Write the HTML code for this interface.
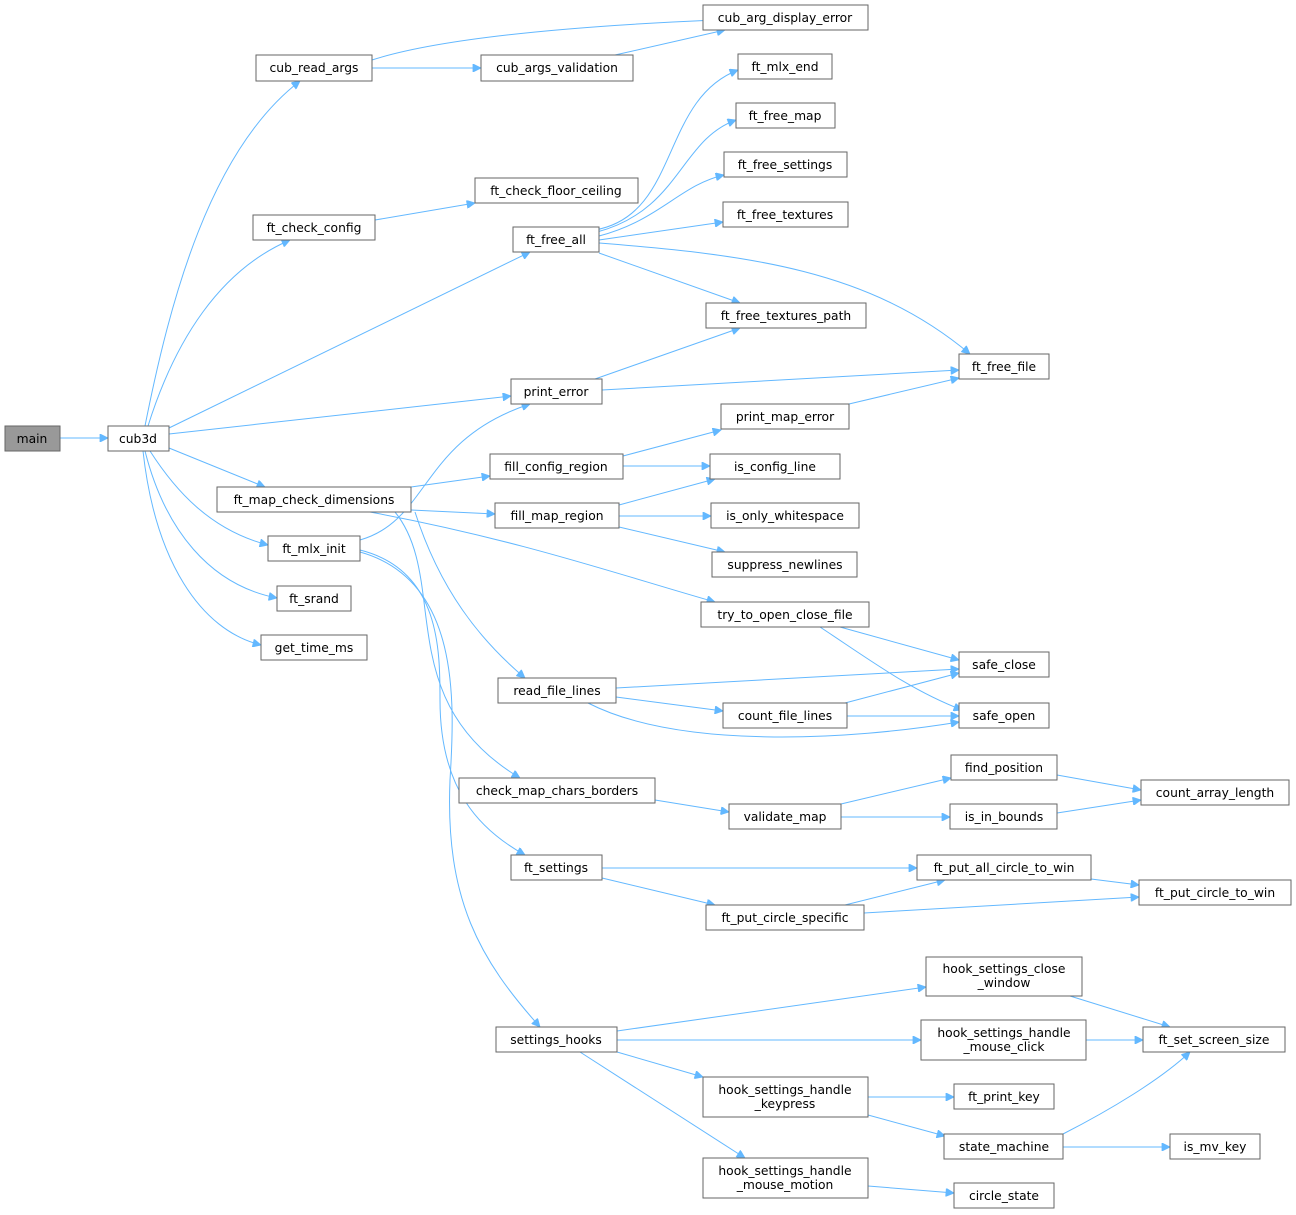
<!DOCTYPE html>
<html><head><meta charset="utf-8"><style>
html,body{margin:0;padding:0;background:#fff;}
svg{display:block;}
text{font-family:"DejaVu Sans","Liberation Sans",sans-serif;font-size:12.3px;fill:#000;text-anchor:middle;}
rect{fill:#fff;stroke:#666;stroke-width:1;}
path{fill:none;stroke:#63b8ff;stroke-width:1;marker-end:url(#a);}
</style></head><body>
<svg width="1296" height="1215" viewBox="0 0 1296 1215" xmlns="http://www.w3.org/2000/svg">
<defs><marker id="a" viewBox="0 0 10 10" refX="10" refY="5" markerWidth="10" markerHeight="8" markerUnits="userSpaceOnUse" orient="auto"><path d="M0,0 L10,5 L0,10 z" style="fill:#63b8ff;stroke:#63b8ff;marker-end:none"/></marker></defs>
<g>
<path d="M60,438 L108,438"/>
<path d="M145,426 C170,300 210,150 300,81"/>
<path d="M148,426 C175,340 220,270 290,240"/>
<path d="M169,428 L530,252"/>
<path d="M169,434 L511,396"/>
<path d="M169,448 L265,487"/>
<path d="M150,451 C175,490 210,530 268,545"/>
<path d="M145,451 C165,530 210,585 277,598"/>
<path d="M143,451 C155,560 200,630 261,645"/>
<path d="M372,60 C450,35 600,25 715,20"/>
<path d="M372,68 L481,68"/>
<path d="M615,55 L725,30"/>
<path d="M375,220 L475,203"/>
<path d="M595,230 C680,215 660,100 738,70"/>
<path d="M597,232 C680,210 680,140 736,120"/>
<path d="M599,236 C660,220 680,185 724,175"/>
<path d="M599,240 L723,222"/>
<path d="M599,253 L740,303"/>
<path d="M599,243 C750,255 870,270 970,354"/>
<path d="M595,379 L740,328"/>
<path d="M602,390 L959,370"/>
<path d="M849,404 L959,378"/>
<path d="M623,456 L721,430"/>
<path d="M623,466 L710,466"/>
<path d="M411,487 L490,476"/>
<path d="M411,510 L495,514"/>
<path d="M370,512 C520,540 620,575 715,602"/>
<path d="M415,512 C440,590 480,640 525,678"/>
<path d="M395,512 C450,580 390,700 520,778"/>
<path d="M619,505 L715,479"/>
<path d="M619,516 L711,516"/>
<path d="M619,527 L725,552"/>
<path d="M360,540 C430,520 420,440 530,404"/>
<path d="M360,550 C440,570 440,650 440,700 C440,790 480,830 525,855"/>
<path d="M360,552 C460,580 455,700 450,780 C445,900 480,960 540,1027"/>
<path d="M840,627 L959,660"/>
<path d="M820,627 C870,660 910,690 962,710"/>
<path d="M616,688 L959,669"/>
<path d="M616,697 L723,711"/>
<path d="M588,703 C680,750 850,740 959,722"/>
<path d="M845,703 L959,673"/>
<path d="M847,716 L959,716"/>
<path d="M655,800 L729,812"/>
<path d="M841,804 L951,778"/>
<path d="M841,817 L950,817"/>
<path d="M1057,775 L1141,790"/>
<path d="M1057,813 L1141,800"/>
<path d="M602,868 L917,868"/>
<path d="M602,878 L715,905"/>
<path d="M845,905 L945,880"/>
<path d="M864,913 L1139,897"/>
<path d="M1091,879 L1139,885"/>
<path d="M617,1031 L926,987"/>
<path d="M617,1040 L921,1040"/>
<path d="M617,1052 L703,1077"/>
<path d="M580,1052 L745,1158"/>
<path d="M1070,996 L1170,1027"/>
<path d="M1086,1040 L1143,1040"/>
<path d="M868,1097 L954,1097"/>
<path d="M868,1115 L945,1136"/>
<path d="M1063,1134 C1110,1110 1160,1080 1190,1052"/>
<path d="M1063,1147 L1170,1147"/>
<path d="M868,1186 L954,1193"/>
</g>
<g>
<rect x="5" y="426" width="55" height="25" style="fill:#999"/><text x="32" y="443">main</text>
<rect x="108" y="426" width="61" height="25"/><text x="138" y="443">cub3d</text>
<rect x="256" y="55" width="116" height="26"/><text x="314" y="72">cub_read_args</text>
<rect x="703" y="5" width="165" height="25"/><text x="785" y="22">cub_arg_display_error</text>
<rect x="481" y="55" width="152" height="26"/><text x="557" y="72">cub_args_validation</text>
<rect x="738" y="54" width="94" height="25"/><text x="785" y="71">ft_mlx_end</text>
<rect x="736" y="103" width="99" height="25"/><text x="785" y="120">ft_free_map</text>
<rect x="475" y="178" width="163" height="25"/><text x="556" y="195">ft_check_floor_ceiling</text>
<rect x="724" y="152" width="123" height="25"/><text x="785" y="169">ft_free_settings</text>
<rect x="253" y="215" width="122" height="25"/><text x="314" y="232">ft_check_config</text>
<rect x="513" y="227" width="86" height="25"/><text x="556" y="244">ft_free_all</text>
<rect x="723" y="202" width="125" height="25"/><text x="785" y="219">ft_free_textures</text>
<rect x="706" y="303" width="160" height="25"/><text x="786" y="320">ft_free_textures_path</text>
<rect x="959" y="354" width="90" height="25"/><text x="1004" y="371">ft_free_file</text>
<rect x="511" y="379" width="91" height="25"/><text x="556" y="396">print_error</text>
<rect x="721" y="404" width="128" height="25"/><text x="785" y="421">print_map_error</text>
<rect x="490" y="454" width="133" height="25"/><text x="556" y="471">fill_config_region</text>
<rect x="710" y="454" width="130" height="25"/><text x="775" y="471">is_config_line</text>
<rect x="217" y="487" width="194" height="25"/><text x="314" y="504">ft_map_check_dimensions</text>
<rect x="495" y="503" width="124" height="25"/><text x="557" y="520">fill_map_region</text>
<rect x="711" y="503" width="148" height="25"/><text x="785" y="520">is_only_whitespace</text>
<rect x="268" y="536" width="92" height="25"/><text x="314" y="553">ft_mlx_init</text>
<rect x="712" y="552" width="145" height="25"/><text x="785" y="569">suppress_newlines</text>
<rect x="277" y="586" width="74" height="25"/><text x="314" y="603">ft_srand</text>
<rect x="701" y="602" width="168" height="25"/><text x="785" y="619">try_to_open_close_file</text>
<rect x="261" y="635" width="106" height="25"/><text x="314" y="652">get_time_ms</text>
<rect x="959" y="652" width="90" height="25"/><text x="1004" y="669">safe_close</text>
<rect x="498" y="678" width="118" height="25"/><text x="557" y="695">read_file_lines</text>
<rect x="723" y="703" width="124" height="25"/><text x="785" y="720">count_file_lines</text>
<rect x="959" y="703" width="90" height="25"/><text x="1004" y="720">safe_open</text>
<rect x="951" y="755" width="106" height="25"/><text x="1004" y="772">find_position</text>
<rect x="459" y="778" width="196" height="25"/><text x="557" y="795">check_map_chars_borders</text>
<rect x="1141" y="780" width="148" height="25"/><text x="1215" y="797">count_array_length</text>
<rect x="729" y="804" width="112" height="25"/><text x="785" y="821">validate_map</text>
<rect x="950" y="804" width="107" height="25"/><text x="1004" y="821">is_in_bounds</text>
<rect x="511" y="855" width="91" height="25"/><text x="556" y="872">ft_settings</text>
<rect x="917" y="855" width="174" height="25"/><text x="1004" y="872">ft_put_all_circle_to_win</text>
<rect x="1139" y="880" width="152" height="25"/><text x="1215" y="897">ft_put_circle_to_win</text>
<rect x="706" y="905" width="158" height="25"/><text x="785" y="922">ft_put_circle_specific</text>
<rect x="926" y="957" width="156" height="39"/><text x="1004" y="973">hook_settings_close</text><text x="1004" y="987">_window</text>
<rect x="921" y="1020" width="165" height="40"/><text x="1004" y="1037">hook_settings_handle</text><text x="1004" y="1051">_mouse_click</text>
<rect x="1143" y="1027" width="142" height="25"/><text x="1214" y="1044">ft_set_screen_size</text>
<rect x="496" y="1027" width="121" height="25"/><text x="556" y="1044">settings_hooks</text>
<rect x="703" y="1077" width="165" height="40"/><text x="785" y="1094">hook_settings_handle</text><text x="785" y="1108">_keypress</text>
<rect x="954" y="1084" width="100" height="25"/><text x="1004" y="1101">ft_print_key</text>
<rect x="944" y="1134" width="119" height="25"/><text x="1004" y="1151">state_machine</text>
<rect x="1170" y="1134" width="90" height="25"/><text x="1215" y="1151">is_mv_key</text>
<rect x="703" y="1158" width="165" height="40"/><text x="785" y="1175">hook_settings_handle</text><text x="785" y="1189">_mouse_motion</text>
<rect x="954" y="1183" width="100" height="25"/><text x="1004" y="1200">circle_state</text>
</g>
</svg>
</body></html>
